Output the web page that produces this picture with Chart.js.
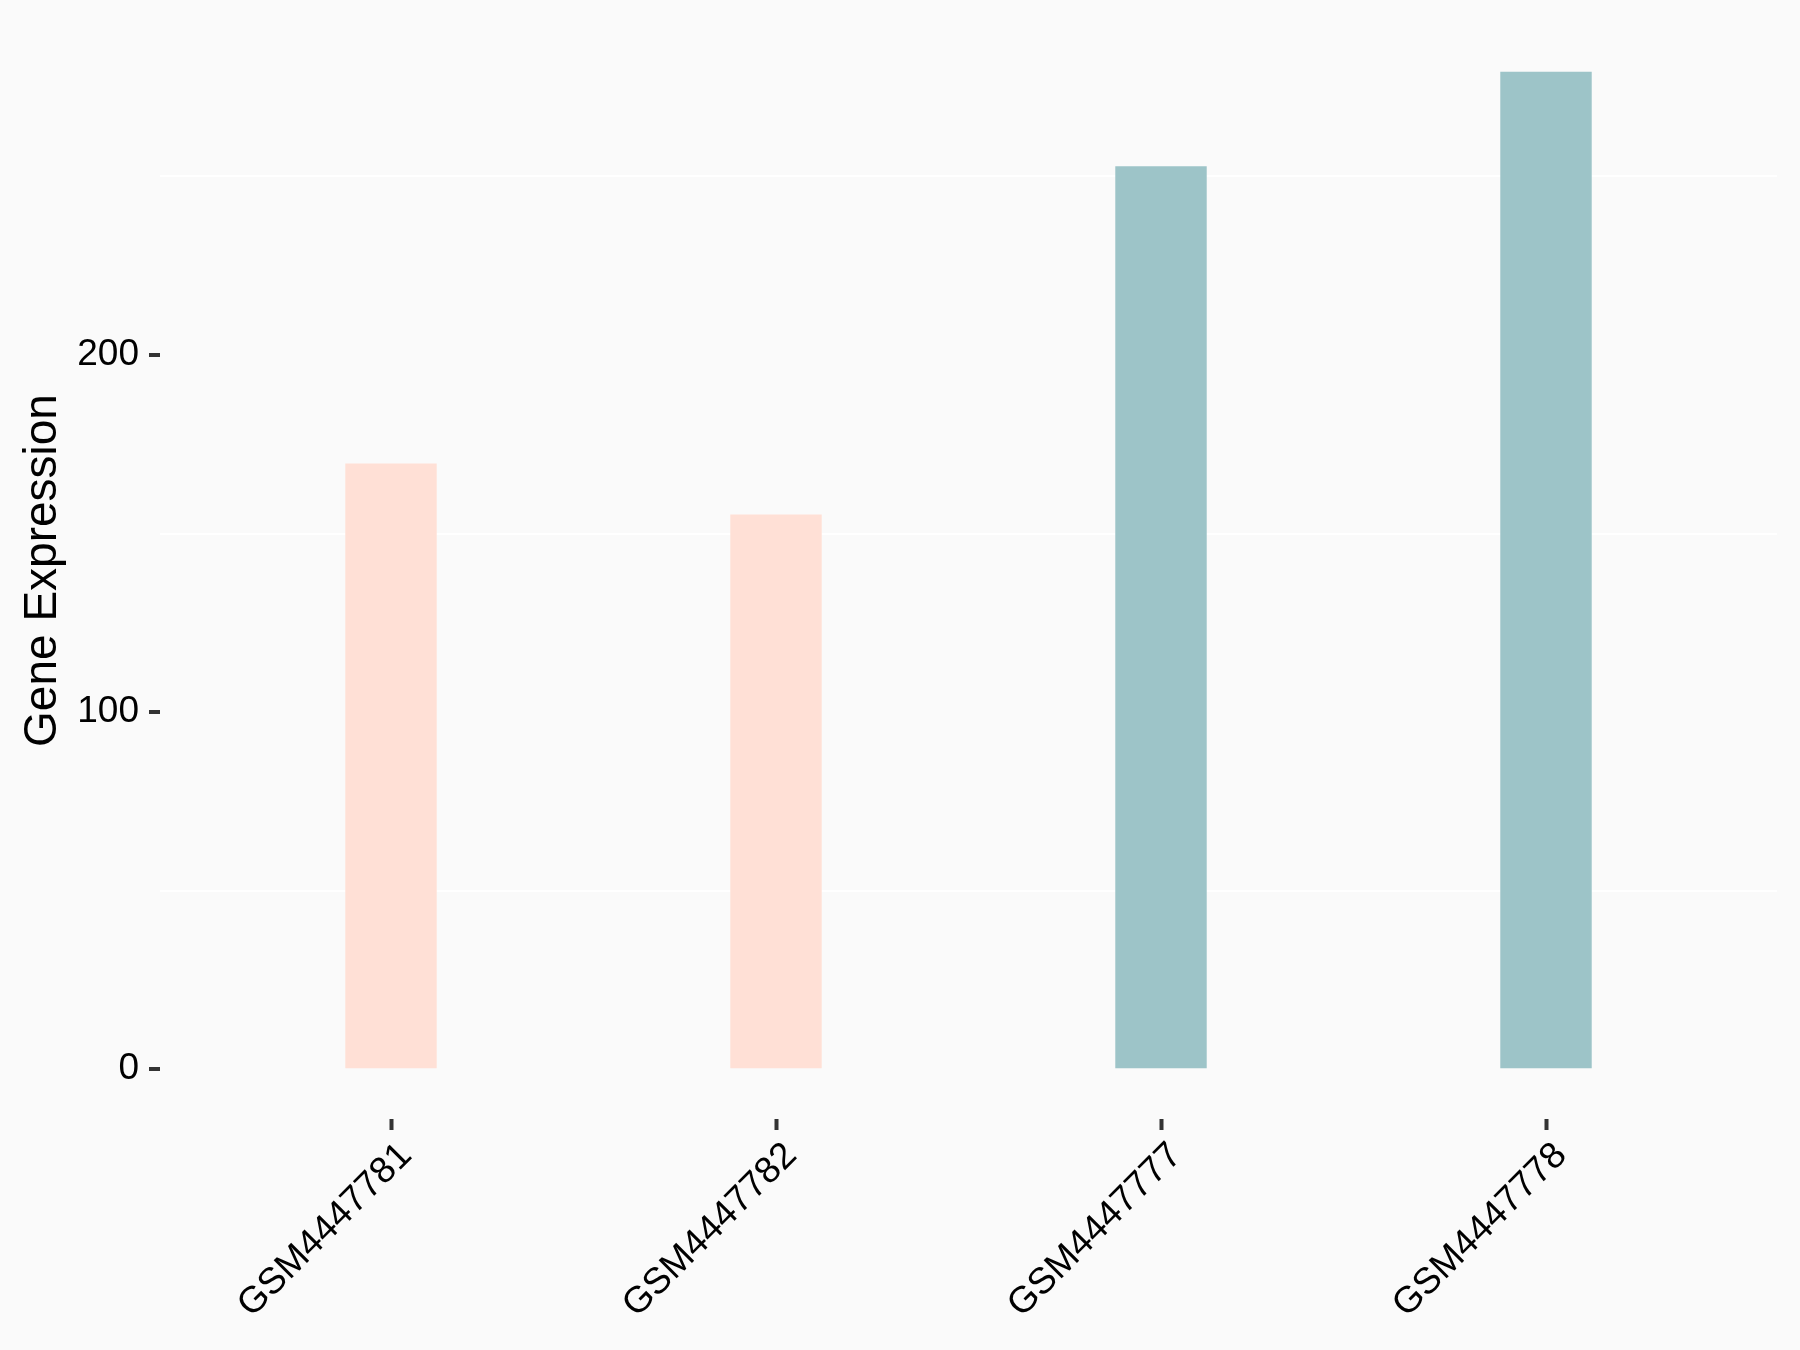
<!DOCTYPE html>
<html>
<head>
<meta charset="utf-8">
<script src="https://cdn.jsdelivr.net/npm/chart.js@4.4.1/dist/chart.umd.min.js"></script>
<style>
  html, body { margin: 0; padding: 0; background: #FAFAFA; }
  canvas { display: block; }
</style>
</head>
<body>
<canvas id="c" width="1800" height="1350"></canvas>
<script>
// ---- data ----
const categories = ["GSM4447781", "GSM4447782", "GSM4447777", "GSM4447778"];
const values = [169.6, 155.3, 252.9, 279.3];
const groups = ["Control", "Control", "Treat", "Treat"];
const groupColors = { Control: "#FFE0D6", Treat: "#9DC4C8" };
const yTickValues = [0, 50, 100, 150, 200, 250];
const yLabel = "Gene Expression";

const FONT = "'Liberation Sans', Arial, sans-serif";
const dataMax = Math.max(...values);

const points = categories.map((c, i) => ({ x: i + 1, y: values[i] }));

new Chart(document.getElementById('c'), {
  type: 'bar',
  data: {
    datasets: [{
      data: points,
      backgroundColor: groups.map(g => groupColors[g]),
      borderWidth: 0,
      categoryPercentage: 1,
      barPercentage: 0.2375
    }]
  },
  options: {
    responsive: false,
    animation: false,
    devicePixelRatio: 1,
    layout: { padding: { top: 22, right: 23, left: 0, bottom: 0 } },
    plugins: { legend: { display: false }, tooltip: { enabled: false } },
    scales: {
      x: {
        type: 'linear',
        min: 0.4,
        max: 4.6,
        offset: false,
        afterBuildTicks: s => { s.ticks = categories.map((c, i) => ({ value: i + 1 })); },
        afterFit: s => { s.height = 231; s.paddingLeft = 0; s.paddingRight = 0; },
        border: { display: false },
        grid: {
          offset: false,
          color: 'rgba(0,0,0,0)',
          drawTicks: true,
          tickLength: 11,
          tickColor: '#333333',
          tickWidth: 4
        },
        ticks: {
          autoSkip: false,
          minRotation: 45,
          maxRotation: 45,
          padding: 4,
          labelOffset: 15,
          color: '#000000',
          font: { family: FONT, size: 37 },
          callback: v => categories[Math.round(v) - 1] || ''
        }
      },
      y: {
        type: 'linear',
        min: -0.05 * dataMax,
        max: 1.05 * dataMax,
        afterBuildTicks: s => { s.ticks = yTickValues.map(v => ({ value: v })); },
        afterFit: s => { s.width = 160; s.paddingTop = 0; s.paddingBottom = 0; },
        border: { display: false },
        grid: {
          color: ctx => (ctx.tick && ctx.tick.value % 100 === 50) ? '#FFFFFF' : 'rgba(0,0,0,0)',
          lineWidth: 2,
          drawTicks: true,
          tickLength: 11,
          tickColor: ctx => (ctx.tick && ctx.tick.value % 100 === 0) ? '#333333' : 'rgba(0,0,0,0)',
          tickWidth: 4
        },
        ticks: {
          padding: 10,
          color: '#000000',
          font: { family: FONT, size: 37 },
          callback: v => (v % 100 === 0 ? String(v) : '')
        },
        title: {
          display: true,
          text: yLabel,
          color: '#000000',
          font: { family: FONT, size: 46 },
          padding: { top: 16, bottom: 0 }
        }
      }
    }
  }
});
</script>
</body>
</html>
